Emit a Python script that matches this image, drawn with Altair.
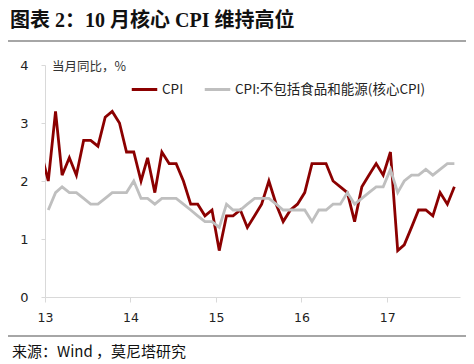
import altair as alt
import pandas as pd

# ---- data ----
cpi_start = "2012-12-15"
cpi = [2.5,
       2.0, 3.2, 2.1, 2.4, 2.1, 2.7, 2.7, 2.6, 3.1, 3.2, 3.0, 2.5,
       2.5, 2.0, 2.4, 1.8, 2.5, 2.3, 2.3, 2.0, 1.6, 1.6, 1.4, 1.5,
       0.8, 1.4, 1.4, 1.5, 1.2, 1.4, 1.6, 2.0, 1.6, 1.3, 1.5, 1.6,
       1.8, 2.3, 2.3, 2.3, 2.0, 1.9, 1.8, 1.3, 1.9, 2.1, 2.3, 2.1,
       2.5, 0.8, 0.9, 1.2, 1.5, 1.5, 1.4, 1.8, 1.6, 1.9]
core_start = "2013-01-15"
core = [1.5, 1.8, 1.9, 1.8, 1.8, 1.7, 1.6, 1.6, 1.7, 1.8, 1.8, 1.8,
        2.0, 1.7, 1.7, 1.6, 1.7, 1.7, 1.7, 1.6, 1.5, 1.4, 1.3, 1.3,
        1.2, 1.6, 1.5, 1.5, 1.6, 1.7, 1.7, 1.7, 1.6, 1.5, 1.5, 1.5,
        1.5, 1.3, 1.5, 1.5, 1.6, 1.6, 1.8, 1.6, 1.7, 1.8, 1.9, 1.9,
        2.2, 1.8, 2.0, 2.1, 2.1, 2.2, 2.1, 2.2, 2.3, 2.3]
series_names = ["CPI", "CPI:不包括食品和能源(核心CPI)"]
series_colors = ["#8B0000", "#BFBFBF"]
year_ticks = ["2013-01-01", "2014-01-01", "2015-01-01", "2016-01-01", "2017-01-01"]
y_ticks = [0, 1, 2, 3, 4]

title_text = "图表 2：10 月核心 CPI 维持高位"
ytitle_text = "当月同比，%"
source_text = "来源：Wind ，莫尼塔研究"


def monthly(start, n):
    return (pd.date_range(start=pd.Timestamp(start) - pd.Timedelta(days=14), periods=n, freq="MS")
            + pd.Timedelta(days=14))


df = pd.concat([
    pd.DataFrame({"date": monthly(cpi_start, len(cpi)), "value": cpi, "series": series_names[0]}),
    pd.DataFrame({"date": monthly(core_start, len(core)), "value": core, "series": series_names[1]}),
])
df["date"] = df["date"].dt.strftime("%Y-%m-%d")

W, H = 415, 232

lines = alt.Chart(df).mark_line(strokeWidth=2.8, clip=True).encode(
    x=alt.X("date:T",
            scale=alt.Scale(domain=["2013-01-01", "2017-11-08"], nice=False),
            axis=alt.Axis(values=year_ticks, labelExpr="timeFormat(datum.value, '%y')",
                          title=None, grid=False, domainColor="#d9d9d9", tickColor="#d9d9d9",
                          tickSize=5, labelPadding=9, labelFont="DejaVu Sans", labelFontSize=12.5,
                          labelColor="#222", labelAlign="center")),
    y=alt.Y("value:Q", scale=alt.Scale(domain=[0, 4], nice=False),
            axis=alt.Axis(values=y_ticks, title=None, grid=False, domainColor="#d9d9d9",
                          tickColor="#d9d9d9", tickSize=4, labelPadding=13,
                          labelFont="DejaVu Sans", labelFontSize=13, labelColor="#222")),
    color=alt.Color("series:N",
                    scale=alt.Scale(domain=series_names, range=series_colors),
                    legend=alt.Legend(orient="none", legendX=85, legendY=10, direction="horizontal",
                                      title=None, symbolType="stroke", symbolSize=650,
                                      symbolStrokeWidth=3, labelFont="Noto Sans CJK SC",
                                      labelFontSize=13.5, labelColor="#222", columnPadding=14,
                                      labelOffset=3, labelLimit=400)),
    order=alt.Order("series:N", sort="descending"),
)

def txt(t, x, y, size, weight="normal", font="Noto Sans CJK SC", color="#111"):
    return alt.Chart(pd.DataFrame({"t": [t]})).mark_text(
        align="left", baseline="middle", fontSize=size, fontWeight=weight, font=font, color=color
    ).encode(x=alt.value(x), y=alt.value(y), text="t:N")

def hline(y):
    return alt.Chart(pd.DataFrame({"a": [0]})).mark_rule(color="#888", strokeWidth=1.5).encode(
        x=alt.value(-45), x2=alt.value(474 - 45), y=alt.value(y))

chart = alt.layer(
    lines,
    txt(title_text, -35, -44, 20, weight="bold", font="Liberation Serif, Noto Sans CJK SC"),
    hline(41 - 65),
    hline(336 - 65),
    txt(ytitle_text, 7, 2, 12.5, color="#333"),
    txt(source_text, -33, 352 - 65, 15),
).properties(
    width=W, height=H,
    autosize=alt.AutoSizeParams(type="none"),
    padding={"left": 37, "top": 57, "right": 6, "bottom": 64},
).configure_view(stroke=None)

chart.save("out.html", embed_options={"renderer": "svg", "actions": False})
